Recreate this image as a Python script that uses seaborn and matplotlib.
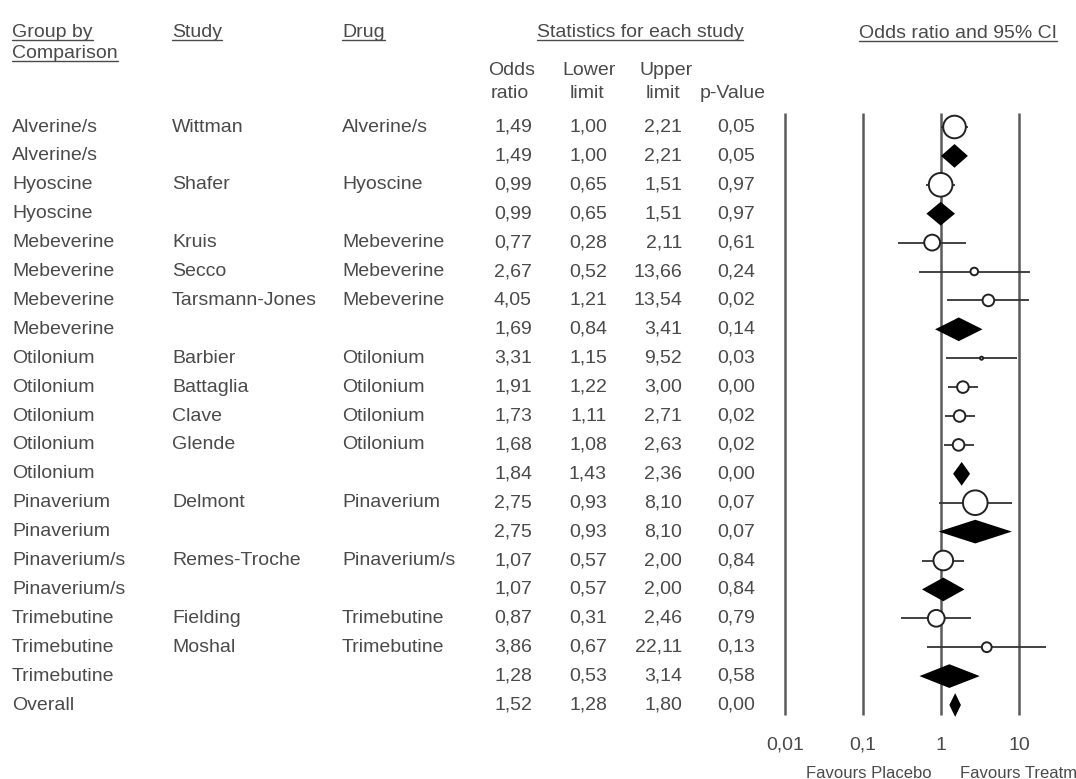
import numpy as np
import pandas as pd
import seaborn as sns
import matplotlib
matplotlib.use("Agg")
import matplotlib.pyplot as plt

# data
groups = ["Alverine/s", "Alverine/s", "Hyoscine", "Hyoscine",
          "Mebeverine", "Mebeverine", "Mebeverine", "Mebeverine",
          "Otilonium", "Otilonium", "Otilonium", "Otilonium", "Otilonium",
          "Pinaverium", "Pinaverium", "Pinaverium/s", "Pinaverium/s",
          "Trimebutine", "Trimebutine", "Trimebutine", "Overall"]
studies = ["Wittman", "", "Shafer", "",
           "Kruis", "Secco", "Tarsmann-Jones", "",
           "Barbier", "Battaglia", "Clave", "Glende", "",
           "Delmont", "", "Remes-Troche", "",
           "Fielding", "Moshal", "", ""]
drugs = ["Alverine/s", "", "Hyoscine", "",
         "Mebeverine", "Mebeverine", "Mebeverine", "",
         "Otilonium", "Otilonium", "Otilonium", "Otilonium", "",
         "Pinaverium", "", "Pinaverium/s", "",
         "Trimebutine", "Trimebutine", "", ""]
odds = [1.49, 1.49, 0.99, 0.99, 0.77, 2.67, 4.05, 1.69, 3.31, 1.91, 1.73,
        1.68, 1.84, 2.75, 2.75, 1.07, 1.07, 0.87, 3.86, 1.28, 1.52]
lower = [1.00, 1.00, 0.65, 0.65, 0.28, 0.52, 1.21, 0.84, 1.15, 1.22, 1.11,
         1.08, 1.43, 0.93, 0.93, 0.57, 0.57, 0.31, 0.67, 0.53, 1.28]
upper = [2.21, 2.21, 1.51, 1.51, 2.11, 13.66, 13.54, 3.41, 9.52, 3.00, 2.71,
         2.63, 2.36, 8.10, 8.10, 2.00, 2.00, 2.46, 22.11, 3.14, 1.80]
pvals = [0.05, 0.05, 0.97, 0.97, 0.61, 0.24, 0.02, 0.14, 0.03, 0.00, 0.02,
         0.02, 0.00, 0.07, 0.07, 0.84, 0.84, 0.79, 0.13, 0.58, 0.00]
# relative weight of each single study (drives marker area)
weight = [5.3, 5.8, 2.6, 0.6, 1.4, 0.1, 1.4, 1.4, 1.4, 6.3, 4.0, 2.9, 1.0]

df = pd.DataFrame({"group": groups, "study": studies, "drug": drugs,
                   "odds": odds, "lower": lower, "upper": upper, "p": pvals})
df["row"] = np.arange(len(df))
df["summary"] = df["study"] == ""
st = df[~df["summary"]].copy()
st["weight"] = weight
sm = df[df["summary"]]

sns.set_style("white")
plt.rcParams["font.family"] = ["Liberation Sans", "DejaVu Sans"]

W, H = 1076, 779
ROW0, ROWH = 127, 28.9
TXT = "#4a4a4a"
FS = 14

fig = plt.figure(figsize=(W / 100, H / 100), dpi=100)

# text layer in pixel coordinates
ax_t = fig.add_axes([0, 0, 1, 1])
ax_t.set_xlim(0, W)
ax_t.set_ylim(H, 0)
ax_t.axis("off")

def ypix(r):
    return ROW0 + ROWH * r

def fmt(v):
    return f"{v:.2f}".replace(".", ",")

underlined = []
for txt, x, y, ha in [("Group by", 12, 32, "left"), ("Comparison", 12, 53, "left"),
                      ("Study", 172, 32, "left"), ("Drug", 342, 32, "left"),
                      ("Statistics for each study", 640, 32, "center"),
                      ("Odds ratio and 95% CI", 958, 33, "center")]:
    underlined.append(ax_t.text(x, y, txt, ha=ha, va="center", fontsize=FS, color=TXT))

for txt, x, y in [("Odds", 512, 70), ("ratio", 510, 93), ("Lower", 589, 70),
                  ("limit", 587, 93), ("Upper", 666, 70), ("limit", 663, 93),
                  ("p-Value", 733, 93)]:
    ax_t.text(x, y, txt, ha="center", va="center", fontsize=FS, color=TXT)

for _, r in df.iterrows():
    y = ypix(r["row"])
    ax_t.text(12, y, r["group"], ha="left", va="center", fontsize=FS, color=TXT)
    ax_t.text(172, y, r["study"], ha="left", va="center", fontsize=FS, color=TXT)
    ax_t.text(342, y, r["drug"], ha="left", va="center", fontsize=FS, color=TXT)
    for col, x in [("odds", 532), ("lower", 607), ("upper", 682), ("p", 755)]:
        ax_t.text(x, y, fmt(r[col]), ha="right", va="center", fontsize=FS, color=TXT)

ax_t.text(932, 773, "Favours Placebo", ha="right", va="center", fontsize=12, color=TXT)
ax_t.text(960, 773, "Favours Treatment", ha="left", va="center", fontsize=12, color=TXT)

# forest panel
px_l, px_r, px_t, px_b = 770, W, 100, 730
ax = fig.add_axes([px_l / W, (H - px_b) / H, (px_r - px_l) / W, (px_b - px_t) / H])
ax.patch.set_alpha(0)
dec = 78.0
ax.set_xscale("log")
ax.set_xlim(10 ** (-2 - (785 - px_l) / dec), 10 ** (-2 + (px_r - 785) / dec))
ax.set_ylim((px_b - ROW0) / ROWH, (px_t - ROW0) / ROWH)

ax.vlines([0.01, 0.1, 1, 10], (113 - ROW0) / ROWH, (715 - ROW0) / ROWH,
          color="#5a5a5a", lw=1.8, zorder=1)

ax.hlines(st["row"], st["lower"], st["upper"], color="#333333", lw=1.3, zorder=2)
sns.scatterplot(data=st, x="odds", y="row", size="weight",
                sizes=(min(weight) * 50, max(weight) * 50),
                size_norm=(min(weight), max(weight)),
                color="white", edgecolor="#222222", linewidth=1.4,
                legend=False, ax=ax, zorder=3)

hh = 0.41
for _, r in sm.iterrows():
    y = r["row"]
    ax.fill([r["lower"], r["odds"], r["upper"], r["odds"]],
            [y, y - hh, y, y + hh], color="black", zorder=3, lw=0)

ax.set_xticks([0.01, 0.1, 1, 10])
ax.set_xticklabels(["0,01", "0,1", "1", "10"])
ax.minorticks_off()
ax.tick_params(axis="x", length=0, pad=5, labelsize=FS, labelcolor=TXT)
ax.set_yticks([])
ax.set_xlabel("")
ax.set_ylabel("")
sns.despine(ax=ax, left=True, bottom=True)

# underline the header labels
fig.canvas.draw()
inv = ax_t.transData.inverted()
for t in underlined:
    bb = t.get_window_extent()
    (x0, y0), (x1, y1) = inv.transform([(bb.x0, bb.y0), (bb.x1, bb.y1)])
    ax_t.plot([x0, x1], [y0 - 1, y0 - 1], color=TXT, lw=1.0)

fig.savefig("out.png", dpi=100)
